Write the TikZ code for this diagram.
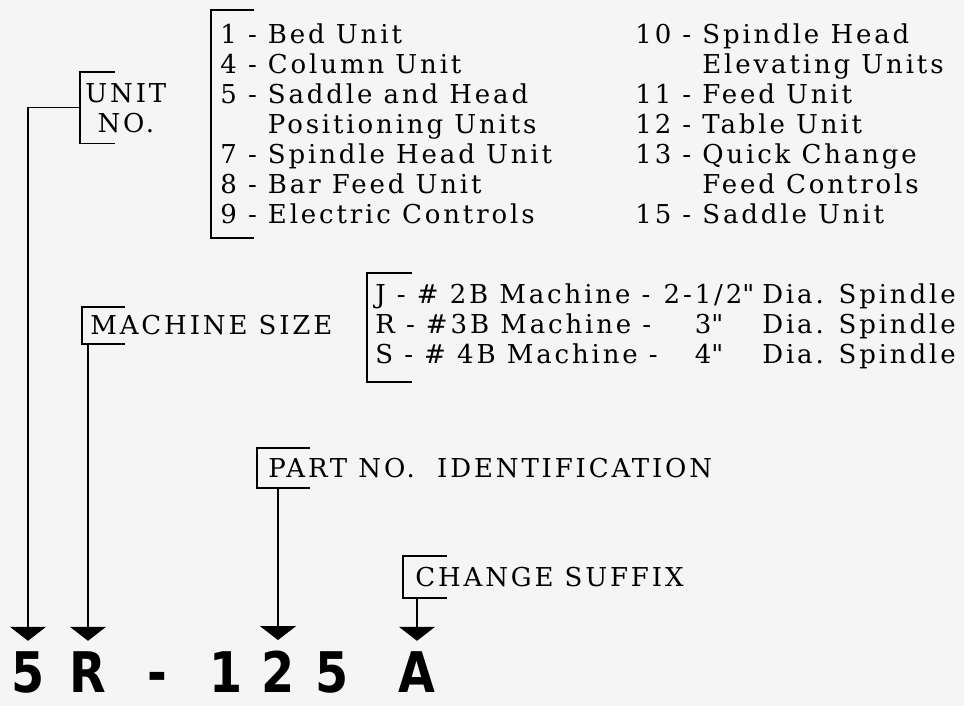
\documentclass[tikz,border=0pt]{standalone}
\usepackage{fontspec}
\setmainfont[LetterSpace=11]{DejaVu Serif}
\newfontfamily\codefont[FakeStretch=0.85]{DejaVu Sans}
\usepackage{tikz}
\usetikzlibrary{arrows.meta,positioning,calc}

\begin{document}
\begin{tikzpicture}[
  x=0.5pt, y=-0.5pt,
  font=\fontsize{13}{15}\selectfont,
  tag/.style={anchor=north west, inner ysep=0pt, align=center},
  legend/.style={anchor=north west, inner ysep=0pt, align=left},
  digit/.style={anchor=base, inner sep=0pt, font=\codefont\bfseries\fontsize{28}{28}\selectfont},
  brace/.style={line width=0.7pt},
  lead/.style={line width=0.6pt, shorten >=5pt, -{Triangle[width=18pt, length=7pt]}},
]
\useasboundingbox[fill=black!4] (0,0) rectangle (964,706);
\clip (0,0) rectangle (964,706);

\node[tag, minimum height=35.5pt, inner xsep=2.5pt] (unitno) at (80,72) {UNIT\\NO.};
\node[legend, minimum height=113.5pt, inner xsep=4.5pt] (units) at (211,10) {1 - Bed Unit\\4 - Column Unit\\5 - Saddle and Head\\\phantom{5 - }Positioning Units\\7 - Spindle Head Unit\\8 - Bar Feed Unit\\9 - Electric Controls};
\node[legend, minimum height=113.5pt, inner xsep=0pt] (moreunits) at (635,10) {10 - Spindle Head\\\phantom{10 - }Elevating Units\\11 - Feed Unit\\12 - Table Unit\\13 - Quick Change\\\phantom{13 - }Feed Controls\\15 - Saddle Unit};

\node[tag, minimum height=18pt, inner xsep=4pt] (size) at (82,307) {MACHINE SIZE};
\node[legend, minimum height=54pt, inner xsep=4pt] (sizes) at (367,273) {\begin{tabular}{@{}l@{\hspace{3pt}}c@{\hspace{4pt}}l@{}}
J - \# 2B Machine - & 2-1/2\textquotedbl & Dia. Spindle\\
R - \#3B Machine - & 3\textquotedbl & Dia. Spindle\\
S - \# 4B Machine - & 4\textquotedbl & Dia. Spindle
\end{tabular}};

\node[tag, minimum height=19.5pt, inner xsep=5.5pt] (part) at (257,448) {PART NO.\ \ IDENTIFICATION};
\node[tag, minimum height=20.5pt, inner xsep=6pt] (suffix) at (403,556) {CHANGE SUFFIX};

\foreach \n/\a in {unitno/35, units/43, size/43, sizes/45, part/53, suffix/44}
  \draw[brace] ($(\n.north west)+(\a,0)$) -- (\n.north west) -- (\n.south west) -- ++(\a,0);

\node[digit] (d5) at (28,692) {5};
\node[digit] (dR) at (88,692) {R};
\node[digit] (dash) at (157,692) {-};
\node[digit] (d1) at (226,692) {1};
\node[digit] (d2) at (278,692) {2};
\node[digit] (d5b) at (332,692) {5};
\node[digit] (dA) at (417,692) {A};

\draw[lead] (unitno.west) -| (d5.north);
\draw[lead] (size.south west -| dR.north) -- (dR.north);
\draw[lead] (part.south west -| d2.north) -- (d2.north);
\draw[lead] (suffix.south west -| dA.north) -- (dA.north);
\end{tikzpicture}
\end{document}
